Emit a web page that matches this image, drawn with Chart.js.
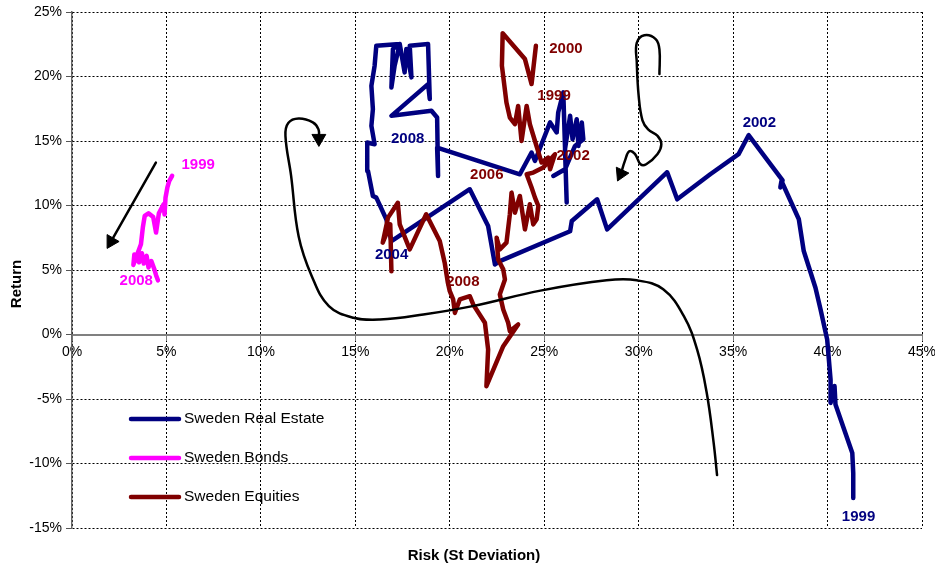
<!DOCTYPE html>
<html>
<head>
<meta charset="utf-8">
<script src="https://cdn.jsdelivr.net/npm/chart.js@4.4.1/dist/chart.umd.min.js"></script>
<style>
  html, body { margin: 0; padding: 0; background: #fff; }
  #wrap { position: relative; width: 935px; height: 570px; }
</style>
</head>
<body>
<div id="wrap"><canvas id="grafico"></canvas></div>
<script>
// eixos (em %)
const xTicks = [0, 5, 10, 15, 20, 25, 30, 35, 40, 45];
const yTicks = [-15, -10, -5, 0, 5, 10, 15, 20, 25];

// series: [risco, retorno] em %
const realEstate = [
  [41.36,-12.68],[41.36,-10.74],[41.31,-9.19],[40.42,-5.43],[40.37,-4.0],[40.16,-5.3],[40.16,-3.5],
  [39.98,-0.39],[39.63,1.94],[39.36,3.62],[38.74,6.47],[38.48,8.93],[37.56,11.9],[37.5,11.4],[37.62,11.95],
  [35.82,15.45],[35.29,13.98],[33.79,12.42],[32.04,10.48],[31.51,12.58],[28.33,8.15],[27.8,10.48],
  [26.46,8.8],[26.37,8.0],[22.65,5.69],[22.39,5.43],[22.03,8.41],[21.06,11.26],[16.91,7.24],
  [16.64,8.93],[16.11,10.61],[15.93,10.74],[15.67,12.68],[15.63,14.88],[16.02,14.75],[15.85,16.17],
  [15.93,17.47],[15.85,19.28],[16.02,20.83],[16.11,22.38],[17.35,22.52],[16.99,22.13],[16.91,19.15],
  [17.08,20.83],[17.35,22.52],[17.61,20.32],[17.7,22.13],[17.97,19.93],[17.88,22.38],[18.85,22.52],
  [18.94,18.25],[18.85,19.41],[16.91,16.95],[19.03,17.34],[19.33,16.82],[19.38,12.29],[19.33,14.49],
  [23.71,12.42],[24.33,14.11],[24.51,13.45],[25.31,16.44],[25.66,15.66],[25.74,17.21],[26.01,18.77],
  [26.19,10.23],[26.1,14.36],[26.37,16.95],[26.5,15.14],[26.72,16.69],[26.81,14.62],[26.99,16.44],
  [27.07,15.14],[26.63,14.62],[26.1,12.81],[25.48,12.29]
];

const bonds = [
  [5.3,12.3],[5.15,11.9],[5.05,11.4],[4.95,10.6],[4.9,9.3],[4.85,10.1],[4.6,9.4],[4.45,7.9],[4.3,9.1],
  [4.05,9.4],[3.85,9.2],[3.75,8.3],[3.65,7.0],[3.45,6.2],[3.25,5.4],[3.3,6.2],[3.55,5.6],[3.7,6.3],
  [3.8,5.5],[3.95,6.1],[4.05,5.2],[4.2,5.7],[4.35,5.1],[4.45,4.6],[4.55,4.2]
];

const equities = [
  [24.56,22.38],[24.33,19.41],[23.98,21.35],[22.8,23.35],[22.76,20.83],[23.0,17.99],[23.18,16.82],
  [23.45,16.3],[23.62,17.72],[23.8,15.0],[24.07,17.72],[24.24,16.3],[24.51,15.0],[24.86,13.33],
  [25.21,13.72],[25.31,12.81],[25.57,13.98],[24.95,12.94],[24.42,12.55],[24.07,12.42],[24.33,11.39],
  [24.51,10.61],[24.69,9.96],[24.6,8.93],[24.42,8.54],[24.24,10.1],[23.98,8.15],[23.71,10.74],
  [23.45,9.45],[23.27,11.0],[23.18,9.32],[23.0,7.12],[22.65,6.6],[22.48,7.5],[22.56,5.82],[22.83,5.05],
  [22.92,4.27],[22.65,3.11],[22.83,1.94],[23.09,0.91],[23.18,0.26],[23.62,0.78],[22.83,-0.91],
  [21.94,-4.01],[22.03,-1.16],[21.86,0.91],[21.24,2.33],[21.06,2.97],[20.53,2.72],[20.27,1.68],
  [20.18,2.72],[20.0,3.36],[19.9,4.01],[19.73,5.57],[19.47,7.24],[18.75,9.32],[17.88,6.6],[17.35,8.54],
  [17.25,10.22],[16.73,9.06],[16.45,7.12],[16.85,8.54],[16.91,4.9]
];

// setas desenhadas a mao (pretas)
const arrowLoop = [
  [34.15,-10.9],[33.97,-8.4],[33.6,-4.5],[33.1,-1.2],[32.4,1.4],[31.3,3.5],[29.9,4.2],[28.3,4.2],
  [24.8,3.4],[21.2,2.2],[18.6,1.55],[16.3,1.16],[14.9,1.3],[13.6,2.2],[12.7,4.5],[12.0,7.6],
  [11.6,12.3],[11.3,15.4],[11.45,16.4],[12.0,16.75],[12.75,16.45],[13.05,15.9],[13.07,15.2]
];
const arrowHook = [
  [31.1,20.2],[31.1,22.1],[30.9,22.9],[30.3,23.2],[29.9,22.6],[29.9,21.1],[30.0,18.5],[30.2,16.6],
  [30.5,15.9],[31.0,15.4],[31.2,14.75],[31.0,14.0],[30.4,13.2],[30.1,13.2],[29.8,14.0],[29.5,14.2],
  [29.28,13.5],[29.06,12.46]
];
const arrowBonds = [[4.44,13.33],[2.07,7.21]];
const arrowAngles = [180, 205, 210]; // direcao da ponta (graus)

// rotulos dos anos
const reYears = [['1999',41.64,-14.13],['2002',36.39,16.38],['2004',16.92,6.21],['2008',17.77,15.14]];
const bondYears = [['1999',6.68,13.12],['2008',3.4,4.19]];
const eqYears = [['2000',26.15,22.13],['1999',25.52,18.48],['2002',26.53,13.82],['2006',21.96,12.34],['2008',20.69,4.11]];

const NAVY = '#000080', MAGENTA = '#FF00FF', MAROON = '#800000';
const FONT = '"Liberation Sans", Arial, sans-serif';

const toXY = arr => arr.map(p => ({ x: p[0], y: p[1] }));

const serie = (label, pts, color, order) => ({
  label, data: toXY(pts), showLine: true, borderColor: color, backgroundColor: color,
  borderWidth: 4.5, pointRadius: 0, tension: 0, order,
  borderJoinStyle: 'round', borderCapStyle: 'round', legenda: true
});

const seta = (pts, angle, tension) => {
  const n = pts.length;
  return {
    label: '', data: toXY(pts), showLine: true, borderColor: '#000', backgroundColor: '#000',
    borderWidth: 2.5, tension, order: 0, borderCapStyle: 'round',
    pointStyle: 'triangle',
    pointRadius: ctx => ctx.dataIndex === n - 1 ? 8 : 0,
    pointRotation: angle,
    pointBackgroundColor: '#000', pointBorderColor: '#000', pointBorderWidth: 1
  };
};

// legenda dentro do grafico + rotulos + titulos dos eixos
const extras = {
  id: 'extras',
  afterDatasetsDraw(chart) {
    const { ctx, scales: { x, y } } = chart;
    ctx.save();
    // rotulos dos anos
    ctx.font = 'bold 15px ' + FONT;
    ctx.textAlign = 'center';
    ctx.textBaseline = 'middle';
    [[reYears, NAVY], [bondYears, MAGENTA], [eqYears, MAROON]].forEach(([lst, cor]) => {
      ctx.fillStyle = cor;
      lst.forEach(([t, vx, vy]) => ctx.fillText(t, x.getPixelForValue(vx), y.getPixelForValue(vy)));
    });
    // legenda
    const itens = chart.data.datasets.filter(d => d.legenda);
    ctx.font = '15.5px ' + FONT;
    ctx.textAlign = 'left';
    itens.forEach((d, i) => {
      const ly = 419 + i * 39;
      ctx.strokeStyle = d.borderColor;
      ctx.lineWidth = 4.5;
      ctx.lineCap = 'round';
      ctx.beginPath();
      ctx.moveTo(131, ly);
      ctx.lineTo(179, ly);
      ctx.stroke();
      ctx.fillStyle = '#000';
      ctx.fillText(d.label, 184, ly);
    });
    // titulos dos eixos
    ctx.font = 'bold 15px ' + FONT;
    ctx.textAlign = 'center';
    ctx.fillText('Risk (St Deviation)', 474, 556);
    ctx.translate(17, 284);
    ctx.rotate(-Math.PI / 2);
    ctx.fillText('Return', 0, 0);
    ctx.restore();
  }
};

const ctx = document.getElementById('grafico').getContext('2d');
new Chart(ctx, {
  type: 'scatter',
  data: {
    datasets: [
      serie('Sweden Real Estate', realEstate, NAVY, 3),
      serie('Sweden Bonds', bonds, MAGENTA, 2),
      serie('Sweden Equities', equities, MAROON, 1),
      seta(arrowLoop, arrowAngles[0], 0.4),
      seta(arrowHook, arrowAngles[1], 0.4),
      seta(arrowBonds, arrowAngles[2], 0)
    ]
  },
  options: {
    responsive: true,
    maintainAspectRatio: false,
    animation: false,
    events: [],
    layout: { padding: { top: 12, right: 13, bottom: 42, left: 0 } },
    plugins: { legend: { display: false }, tooltip: { enabled: false } },
    scales: {
      x: {
        type: 'linear',
        position: { y: 0 },
        min: 0, max: 45,
        afterBuildTicks: s => { s.ticks = xTicks.map(v => ({ value: v })); },
        afterFit: s => { s.paddingLeft = 0; s.paddingRight = 0; },
        ticks: { callback: v => v + '%', color: '#000', font: { family: FONT, size: 14 }, padding: 4, maxRotation: 0 },
        grid: { color: '#000', lineWidth: 1, tickLength: 5, tickColor: '#808080' },
        border: { display: true, color: '#808080', width: 2, dash: [2, 2] }
      },
      y: {
        type: 'linear',
        min: -15, max: 25,
        afterBuildTicks: s => { s.ticks = yTicks.map(v => ({ value: v })); },
        afterFit: s => { s.width = 72; s.paddingTop = 0; s.paddingBottom = 0; },
        ticks: { callback: v => v + '%', color: '#000', font: { family: FONT, size: 14 }, padding: 4 },
        grid: { color: '#000', lineWidth: 1, tickLength: 6, tickColor: '#555' },
        border: { display: true, color: '#666', width: 1.5, dash: [2, 2] }
      }
    }
  },
  plugins: [extras]
});
</script>
</body>
</html>
